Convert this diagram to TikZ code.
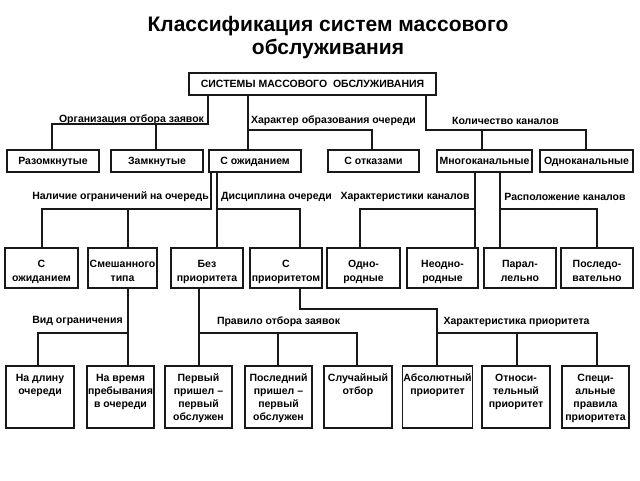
\documentclass[tikz,border=0pt]{standalone}
\usepackage{fontspec}
\setmainfont{Liberation Sans}
\newcommand\mybox[6]{\node[box, minimum width={(#4)-(#2)}, minimum height={(#5)-(#3)}] (#1) at ({((#2)+(#4))/2},{((#3)+(#5))/2}) {#6};}
\newcommand\topt[2]{\parbox[c][58pt][t]{#1}{\centering\vspace*{6pt}#2}}
\newcommand\hstrut{\rule{0pt}{12.5pt}}
\begin{document}
\begin{tikzpicture}[x=1pt,y=-1pt,
  box/.style={draw=black!90, line width=1.1pt, inner sep=0pt, align=center, font=\bfseries\fontsize{10.5}{13.5}\selectfont},
  lbl/.style={inner sep=0pt, font=\bfseries\fontsize{10.5}{12}\selectfont},
  conn/.style={draw=black!90, line width=1.1pt}]
\useasboundingbox[fill=white] (0,0) rectangle (640,480);

\node[font=\bfseries\fontsize{21}{23}\selectfont, align=center] (title) at (328,38) {Классификация систем массового\\обслуживания};

\begin{scope}[box/.append style={text depth=0pt}]
% main
\mybox{sys}{189}{73}{436}{95}{СИСТЕМЫ МАССОВОГО\ \ ОБСЛУЖИВАНИЯ}

% row 1
\mybox{raz}{7}{150}{99}{172}{Разомкнутые}
\mybox{zam}{111}{150}{203}{172}{Замкнутые}
\mybox{sozh}{209}{150}{301}{172}{С ожиданием}
\mybox{sotk}{328}{150}{419}{172}{С отказами}
\mybox{mnog}{437}{150}{532}{172}{Многоканальные}
\mybox{odno}{540}{150}{633}{172}{Одноканальные}
\end{scope}

% row 2
\begin{scope}[box/.append style={text depth=0pt, font=\bfseries\fontsize{10.5}{14}\selectfont}]
\mybox{sozhb}{5}{248}{78}{288}{\hstrut С\\ожиданием}
\mybox{smesh}{88}{248}{157}{288}{\hstrut Смешанного\\типа}
\mybox{bez}{171}{248}{243}{288}{\hstrut Без\\приоритета}
\mybox{sprio}{250}{248}{322}{288}{\hstrut С\\приоритетом}
\mybox{odnor}{327}{248}{400}{288}{\hstrut Одно-\\родные}
\mybox{neodn}{407}{248}{478}{288}{\hstrut Неодно-\\родные}
\mybox{paral}{484}{248}{556}{288}{\hstrut Парал-\\лельно}
\mybox{posl}{561}{248}{633}{288}{\hstrut Последо-\\вательно}
\end{scope}

% row 3
\begin{scope}[box/.append style={font=\bfseries\fontsize{10.5}{13}\selectfont}]
\mybox{dlin}{6}{366}{74}{428}{\topt{66pt}{На длину\\очереди}}
\mybox{vrem}{87}{366}{154}{428}{\topt{66pt}{На время\\пребывания\\в очереди}}
\mybox{perv}{165}{366}{232}{428}{\topt{66pt}{Первый\\пришел –\\первый\\обслужен}}
\mybox{poslb}{245}{366}{312}{428}{\topt{66pt}{Последний\\пришел –\\первый\\обслужен}}
\mybox{sluch}{324}{366}{392}{428}{\topt{68pt}{Случайный\\отбор}}
\mybox{nabs}{403}{366}{472}{428}{\topt{70pt}{Абсолютный\\приоритет}}
\mybox{otn}{482}{366}{550}{428}{\topt{66pt}{Относи-\\тельный\\приоритет}}
\mybox{spec}{562}{366}{629}{428}{\topt{66pt}{Специ-\\альные\\правила\\приоритета}}
\end{scope}

% labels
\node[lbl] (l1) at (131.5,120) {Организация отбора заявок};
\node[lbl] (l2) at (333.5,121) {Характер образования очереди};
\node[lbl] (l3) at (505.5,121) {Количество каналов};
\node[lbl] (l4) at (120.5,197) {Наличие ограничений на очередь};
\node[lbl] (l5) at (276.5,197) {Дисциплина очереди};
\node[lbl] (l6) at (405,197) {Характеристики каналов};
\node[lbl] (l7) at (565,197) {Расположение каналов};
\node[lbl] (l8) at (77.5,321) {Вид ограничения};
\node[lbl] (l9) at (278.5,322) {Правило отбора заявок};
\node[lbl] (l10) at (516.5,322) {Характеристика приоритета};

% connectors level 1
\coordinate (a1) at (208,124);
\coordinate (a1l) at (52,124);
\coordinate (a1m) at (156,124);
\draw[conn] (sys.south -| a1) -- (a1) -- (a1l) -- (a1l |- raz.north);
\draw[conn] (a1m) -- (a1m |- zam.north);

\coordinate (a2) at (248,130);
\coordinate (a2r) at (372,130);
\draw[conn] (sys.south -| a2) -- (a2 |- sozh.north);
\draw[conn] (a2) -- (a2r) -- (a2r |- sotk.north);

\coordinate (a3) at (426,130);
\coordinate (a3m) at (482,130);
\coordinate (a3r) at (586,130);
\draw[conn] (sys.south -| a3) -- (a3) -- (a3r) -- (a3r |- odno.north);
\draw[conn] (a3m) -- (a3m |- mnog.north);

% level 2
\coordinate (b1) at (211,209);
\coordinate (b1l) at (42,209);
\coordinate (b1m) at (128,209);
\draw[conn] (sozh.south -| b1) -- (b1) -- (b1l) -- (b1l |- sozhb.north);
\draw[conn] (b1m) -- (b1m |- smesh.north);

\coordinate (b2) at (217,209);
\coordinate (b2r) at (300,209);
\draw[conn] (sozh.south -| b2) -- (b2 |- bez.north);
\draw[conn] (b2) -- (b2r) -- (b2r |- sprio.north);

\coordinate (b3) at (475,209);
\coordinate (b3l) at (360,209);
\draw[conn] (mnog.south -| b3) -- (b3 |- neodn.north);
\draw[conn] (b3) -- (b3l) -- (b3l |- odnor.north);

\coordinate (b4) at (500,209);
\coordinate (b4r) at (597,209);
\draw[conn] (mnog.south -| b4) -- (b4 |- paral.north);
\draw[conn] (b4) -- (b4r) -- (b4r |- posl.north);

% level 3
\coordinate (c1) at (128,333);
\coordinate (c1l) at (38,333);
\draw[conn] (smesh.south -| c1) -- (c1 |- vrem.north);
\draw[conn] (c1) -- (c1l) -- (c1l |- dlin.north);

\coordinate (c2) at (199,333);
\coordinate (c2m) at (278,333);
\coordinate (c2r) at (357,333);
\draw[conn] (bez.south -| c2) -- (c2 |- perv.north);
\draw[conn] (c2) -- (c2r) -- (c2r |- sluch.north);
\draw[conn] (c2m) -- (c2m |- poslb.north);

\coordinate (c3) at (300,309);
\coordinate (c3r) at (437,309);
\coordinate (c4) at (437,333);
\coordinate (c4m) at (517,333);
\coordinate (c4r) at (597,333);
\draw[conn] (sprio.south -| c3) -- (c3) -- (c3r) -- (c3r |- nabs.north);
\draw[conn] (c4) -- (c4r) -- (c4r |- spec.north);
\draw[conn] (c4m) -- (c4m |- otn.north);
\end{tikzpicture}
\end{document}
